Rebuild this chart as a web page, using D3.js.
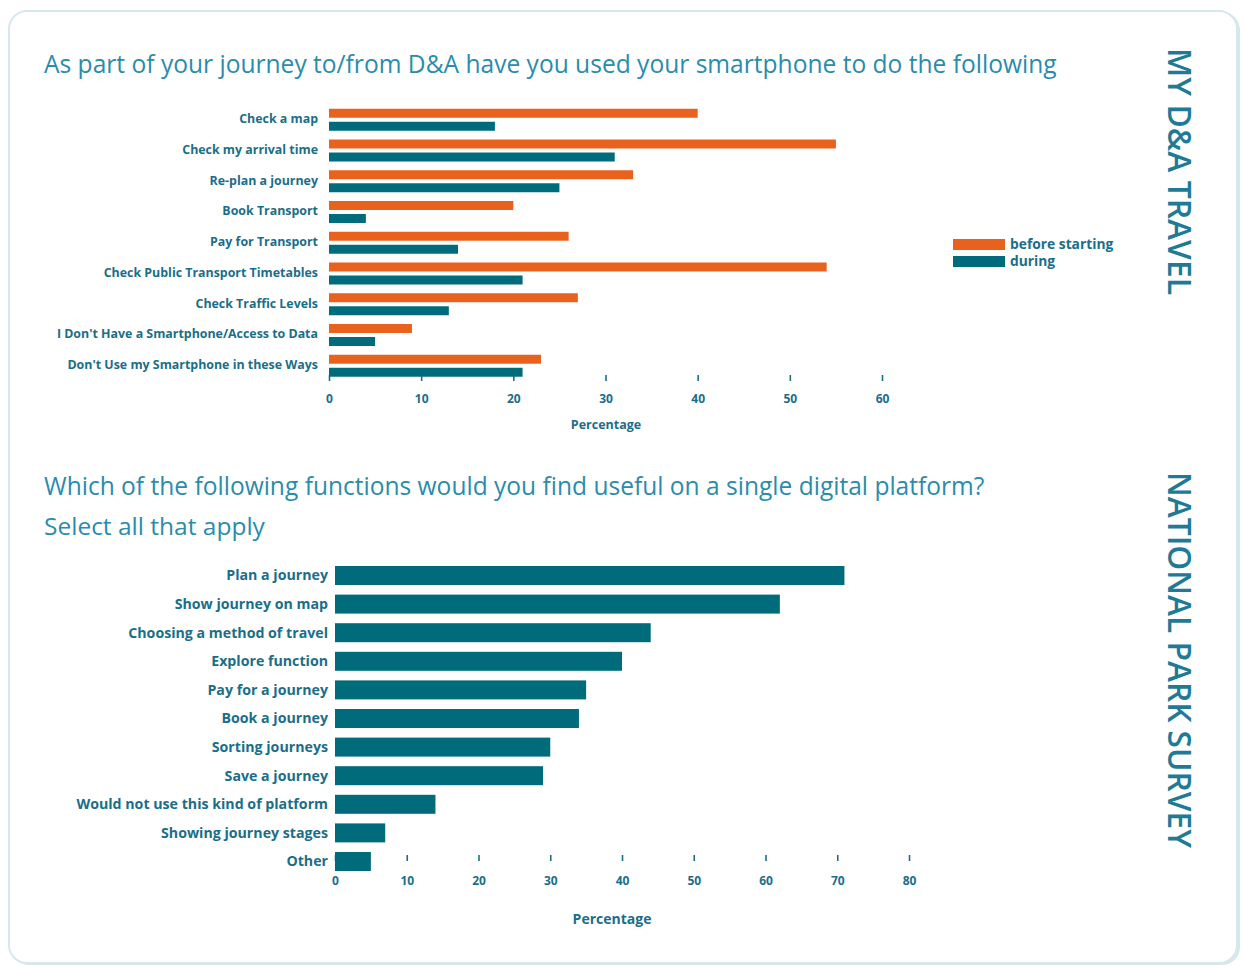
<!DOCTYPE html>
<html>
<head>
<meta charset="utf-8">
<script src="https://cdn.jsdelivr.net/npm/d3@7"></script>
<style>
  html, body { margin: 0; padding: 0; background: #ffffff; }
  svg { display: block; }
  text { font-family: "Open Sans", "Noto Sans", sans-serif; }
</style>
</head>
<body>
<svg id="chart" width="1244" height="966"></svg>
<script>
// ---------- DATA ----------
const topCategories = [
  "Check a map",
  "Check my arrival time",
  "Re-plan a journey",
  "Book Transport",
  "Pay for Transport",
  "Check Public Transport Timetables",
  "Check Traffic Levels",
  "I Don't Have a Smartphone/Access to Data",
  "Don't Use my Smartphone in these Ways"
];
const topSeriesNames = ["before starting", "during"];
const beforeStarting = [40, 55, 33, 20, 26, 54, 27, 9, 23];
const during = [18, 31, 25, 4, 14, 21, 13, 5, 21];
const topTicks = [0, 10, 20, 30, 40, 50, 60];

const bottomCategories = [
  "Plan a journey",
  "Show journey on map",
  "Choosing a method of travel",
  "Explore function",
  "Pay for a journey",
  "Book a journey",
  "Sorting journeys",
  "Save a journey",
  "Would not use this kind of platform",
  "Showing journey stages",
  "Other"
];
const bottomValues = [71, 62, 44, 40, 35, 34, 30, 29, 14, 7, 5];
const bottomTicks = [0, 10, 20, 30, 40, 50, 60, 70, 80];

const title1 = "As part of your journey to/from D&A have you used your smartphone to do the following";
const title2a = "Which of the following functions would you find useful on a single digital platform?";
const title2b = "Select all that apply";
const side1 = "MY D&A TRAVEL";
const side2 = "NATIONAL PARK SURVEY";
const axisTitle = "Percentage";

// ---------- STYLE ----------
const ORANGE = "#e8621d";
const TEAL = "#006b7b";
const LABEL = "#1b6e88";
const TITLE = "#2a8cab";
const SIDE = "#1f7b95";

const svg = d3.select("#chart");

// panel
svg.append("rect").attr("x", 11).attr("y", 12).attr("width", 1229).attr("height", 953)
  .attr("rx", 18).attr("fill", "#d6e8ec");
svg.append("rect").attr("x", 9).attr("y", 11).attr("width", 1228).attr("height", 952)
  .attr("rx", 18).attr("fill", "#ffffff").attr("stroke", "#d6e8ec").attr("stroke-width", 2);

function fitText(sel, target) {
  const w = sel.node().getComputedTextLength();
  const fs = parseFloat(sel.attr("font-size"));
  sel.attr("font-size", (fs * target / w).toFixed(2));
}

// titles
fitText(svg.append("text").attr("x", 44).attr("y", 73).attr("font-size", 25)
  .attr("fill", TITLE).text(title1), 1013);
fitText(svg.append("text").attr("x", 44).attr("y", 495).attr("font-size", 25)
  .attr("fill", TITLE).text(title2a), 941);
svg.append("text").attr("x", 44).attr("y", 535).attr("font-size", 24.5)
  .attr("fill", TITLE).text(title2b);

// side labels
function sideLabel(txt, x, y, len) {
  const t = svg.append("text").attr("transform", `translate(${x},${y}) rotate(90)`)
    .attr("font-size", 32).attr("font-weight", 600).attr("fill", SIDE).text(txt);
  fitText(t, len);
}
sideLabel(side1, 1168, 48, 247);
sideLabel(side2, 1168, 472, 376);

// ---------- TOP CHART ----------
const x1 = d3.scaleLinear().domain([0, 60]).range([329, 882]);
const y1 = d3.scaleBand().domain(topCategories).range([100, 385.5]).padding(0.285);
const y1s = d3.scaleBand().domain(topSeriesNames).range([0, y1.bandwidth()]).paddingInner(0.31);
const topColor = d3.scaleOrdinal().domain(topSeriesNames).range([ORANGE, TEAL]);

const topRows = topCategories.map((c, i) => ({ cat: c, vals: [
  { s: topSeriesNames[0], v: beforeStarting[i] },
  { s: topSeriesNames[1], v: during[i] }
]}));

// axis (drawn first so bars overlap the tick marks as in the reference)
const ax1 = svg.append("g").attr("transform", "translate(0,375)")
  .call(d3.axisBottom(x1).tickValues(topTicks).tickSize(6).tickPadding(13));
ax1.select(".domain").remove();
ax1.selectAll(".tick line").attr("stroke", LABEL).attr("stroke-width", 1.6);
ax1.selectAll(".tick text").attr("fill", LABEL).attr("font-size", 12).attr("font-weight", 700)
  .attr("font-family", "'Open Sans', sans-serif");

const g1 = svg.append("g");
g1.selectAll("g.row").data(topRows).join("g").attr("class", "row")
  .attr("transform", d => `translate(0,${y1(d.cat)})`)
  .selectAll("rect").data(d => d.vals).join("rect")
  .attr("x", x1(0)).attr("y", d => y1s(d.s))
  .attr("width", d => x1(d.v) - x1(0)).attr("height", y1s.bandwidth())
  .attr("fill", d => topColor(d.s));

g1.selectAll("text.cat").data(topCategories).join("text").attr("class", "cat")
  .attr("x", 318).attr("y", d => y1(d) + y1.bandwidth() / 2 - 1)
  .attr("dy", "0.35em").attr("text-anchor", "end").attr("font-size", 12.4)
  .attr("font-weight", 700).attr("fill", LABEL).text(d => d);

svg.append("text").attr("x", 606).attr("y", 429).attr("text-anchor", "middle")
  .attr("font-size", 12.5).attr("font-weight", 700).attr("fill", LABEL).text(axisTitle);

// legend
const leg = svg.append("g");
topSeriesNames.forEach((s, i) => {
  leg.append("rect").attr("x", 953).attr("y", 239 + i * 17).attr("width", 52).attr("height", 11)
    .attr("fill", topColor(s));
  leg.append("text").attr("x", 1010).attr("y", 244.5 + i * 17).attr("dy", "0.35em")
    .attr("font-size", 13.8).attr("font-weight", 700).attr("fill", LABEL).text(s);
});

// ---------- BOTTOM CHART ----------
const x2 = d3.scaleLinear().domain([0, 80]).range([335, 909]);
const y2 = d3.scaleBand().domain(bottomCategories).range([556.4, 880.6]).padding(0.336);

const ax2 = svg.append("g").attr("transform", "translate(0,855)")
  .call(d3.axisBottom(x2).tickValues(bottomTicks).tickSize(6).tickPadding(15));
ax2.select(".domain").remove();
ax2.selectAll(".tick line").attr("stroke", LABEL).attr("stroke-width", 1.6);
ax2.selectAll(".tick text").attr("fill", LABEL).attr("font-size", 12).attr("font-weight", 700)
  .attr("font-family", "'Open Sans', sans-serif");

const g2 = svg.append("g");
g2.selectAll("rect").data(bottomCategories).join("rect")
  .attr("x", x2(0)).attr("y", d => y2(d))
  .attr("width", (d, i) => x2(bottomValues[i]) - x2(0)).attr("height", y2.bandwidth())
  .attr("fill", TEAL);

g2.selectAll("text.cat").data(bottomCategories).join("text").attr("class", "cat")
  .attr("x", 328).attr("y", d => y2(d) + y2.bandwidth() / 2)
  .attr("dy", "0.35em").attr("text-anchor", "end").attr("font-size", 14.2)
  .attr("font-weight", 700).attr("fill", LABEL).text(d => d);

svg.append("text").attr("x", 612).attr("y", 924).attr("text-anchor", "middle")
  .attr("font-size", 14).attr("font-weight", 700).attr("fill", LABEL).text(axisTitle);
</script>
</body>
</html>
